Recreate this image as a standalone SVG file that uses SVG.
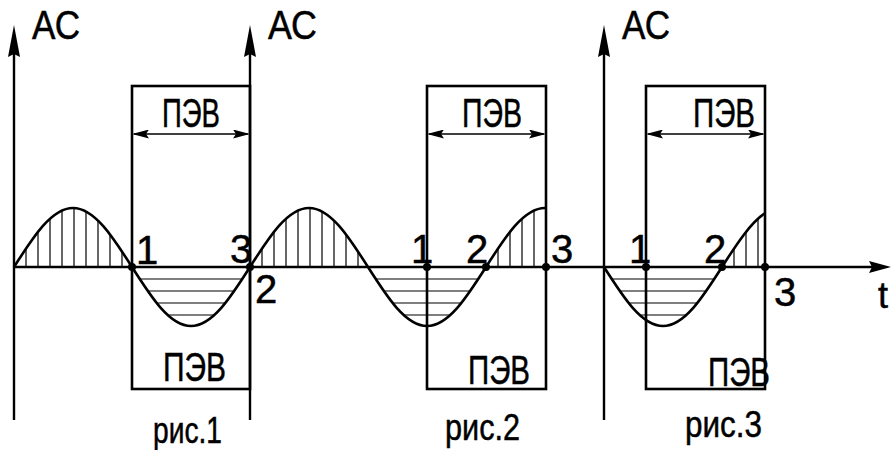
<svg xmlns="http://www.w3.org/2000/svg" width="891" height="450" viewBox="0 0 891 450">
<style>
.ax{stroke:#000;stroke-width:2.4;fill:none}
.box{stroke:#000;stroke-width:2.6;fill:none}
.crv{stroke:#000;stroke-width:2.6;fill:none;stroke-linejoin:round}
.hat{stroke:#000;stroke-width:1.2;fill:none}
.dim{stroke:#000;stroke-width:1.6;fill:none}
.t{font-family:"Liberation Sans",Arial,sans-serif;fill:#000;stroke:#000;stroke-width:0.5}
.big{font-size:40px}
.pev{font-size:41px}
.fig{font-size:36px}
.dot{fill:#000}
</style>
<defs>
<marker id="axArr" markerUnits="userSpaceOnUse" viewBox="0 0 32 12" markerWidth="32" markerHeight="12" refX="22" refY="6" orient="auto">
<path d="M0,0 L32,6 L0,12 L3,6 z" fill="#000"/>
</marker>
<marker id="hArr" markerUnits="userSpaceOnUse" viewBox="0 0 22 12" markerWidth="22" markerHeight="12" refX="12" refY="6" orient="auto">
<path d="M0,0 L22,6 L0,12 L3,6 z" fill="#000"/>
</marker>
<marker id="dimArr" markerUnits="userSpaceOnUse" viewBox="0 0 17 9" markerWidth="17" markerHeight="9" refX="15" refY="4.5" orient="auto-start-reverse">
<path d="M0,0 L17,4.5 L0,9 L3,4.5 z" fill="#000"/>
</marker>
</defs>

<g id="boxes">
<rect class="box" x="132" y="86" width="118" height="303"/>
<rect class="box" x="427" y="86" width="119" height="303"/>
<rect class="box" x="646" y="86" width="119" height="303"/>
</g>

<g id="hatching">
<path class="hat" d="M26,267V248.5M38,267V231.8M50,267V218.7M62,267V210.5M74,267V208M86,267V211.5M98,267V220.6M110,267V234.3M122,267V251.4"/>
<path class="hat" d="M262,267V248.5M274,267V231.8M286,267V218.7M298,267V210.5M310,267V208M322,267V211.5M334,267V220.6M346,267V234.3M358,267V251.4"/>
<path class="hat" d="M498,267V248.5M510,267V231.8M522,267V218.7M534,267V210.5"/>
<path class="hat" d="M734,267V248.5M746,267V231.8M758,267V218.7"/>
<path class="hat" d="M139.7,279H242.3M147.7,291H234.3M156.6,303H225.4M167.7,315H214.3"/>
<path class="hat" d="M375.7,279H478.3M383.7,291H470.3M392.6,303H461.4M403.7,315H450.3"/>
<path class="hat" d="M611.7,279H714.3M619.7,291H706.3M628.6,303H697.4M639.7,315H686.3"/>
</g>

<g id="axes">
<line class="ax" x1="14" y1="420" x2="14" y2="35" marker-end="url(#axArr)"/>
<line class="ax" x1="250" y1="420" x2="250" y2="35" marker-end="url(#axArr)"/>
<line class="ax" x1="604" y1="420" x2="604" y2="35" marker-end="url(#axArr)"/>
<line class="ax" x1="14" y1="267" x2="881" y2="267" marker-end="url(#hArr)"/>
</g>

<g id="dimensions">
<line class="dim" x1="134" y1="134" x2="248" y2="134" marker-start="url(#dimArr)" marker-end="url(#dimArr)"/>
<line class="dim" x1="429" y1="134" x2="544" y2="134" marker-start="url(#dimArr)" marker-end="url(#dimArr)"/>
<line class="dim" x1="648" y1="134" x2="763" y2="134" marker-start="url(#dimArr)" marker-end="url(#dimArr)"/>
</g>

<g id="curves">
<path class="crv" d="M14,267 C33.24,236.78 51.65,208 73,208 C94.35,208 112.76,236.78 132,267 C151.24,297.22 169.65,326 191,326 C212.35,326 230.76,297.22 250,267 C269.24,236.78 287.65,208 309,208 C330.35,208 348.76,236.78 368,267 C387.24,297.22 405.65,326 427,326 C448.35,326 466.76,297.22 486,267 C505.24,236.78 523.65,208 545,208 L546,208"/>
<path class="crv" d="M604,267 C623.24,297.22 641.65,326 663,326 C684.35,326 702.76,297.22 722,267 C736.33,244.48 750.67,222.57 765,213.27"/>
</g>

<g id="points">
<circle class="dot" cx="132" cy="267" r="4"/>
<circle class="dot" cx="250" cy="267" r="4"/>
<circle class="dot" cx="427" cy="267" r="4"/>
<circle class="dot" cx="486" cy="267" r="4"/>
<circle class="dot" cx="546" cy="267" r="4"/>
<circle class="dot" cx="646" cy="267" r="4"/>
<circle class="dot" cx="722" cy="267" r="4"/>
<circle class="dot" cx="765" cy="267" r="4"/>
</g>

<g id="labels">
<text class="t big" x="32" y="39" textLength="48" lengthAdjust="spacingAndGlyphs">АС</text>
<text class="t big" x="268" y="39" textLength="49" lengthAdjust="spacingAndGlyphs">АС</text>
<text class="t big" x="622" y="39" textLength="48" lengthAdjust="spacingAndGlyphs">АС</text>

<text class="t pev" x="162" y="127" textLength="58" lengthAdjust="spacingAndGlyphs">ПЭВ</text>
<text class="t pev" x="462" y="127" textLength="60" lengthAdjust="spacingAndGlyphs">ПЭВ</text>
<text class="t pev" x="693" y="127" textLength="62" lengthAdjust="spacingAndGlyphs">ПЭВ</text>
<text class="t pev" x="163" y="381" textLength="63" lengthAdjust="spacingAndGlyphs">ПЭВ</text>
<text class="t pev" x="468" y="384" textLength="62" lengthAdjust="spacingAndGlyphs">ПЭВ</text>
<text class="t pev" x="708" y="386" textLength="62" lengthAdjust="spacingAndGlyphs">ПЭВ</text>

<text class="t big" x="136" y="264">1</text>
<text class="t big" x="230" y="263">3</text>
<text class="t big" x="255" y="303">2</text>
<text class="t big" x="411" y="263">1</text>
<text class="t big" x="466" y="263">2</text>
<text class="t big" x="551" y="263">3</text>
<text class="t big" x="629" y="263">1</text>
<text class="t big" x="704" y="263">2</text>
<text class="t big" x="774" y="306">3</text>
<text class="t fig" x="878" y="308">t</text>

<text class="t fig" x="153" y="443" textLength="69" lengthAdjust="spacingAndGlyphs">рис.1</text>
<text class="t fig" x="445" y="440" textLength="75" lengthAdjust="spacingAndGlyphs">рис.2</text>
<text class="t fig" x="685" y="437" textLength="77" lengthAdjust="spacingAndGlyphs">рис.3</text>
</g>
</svg>
